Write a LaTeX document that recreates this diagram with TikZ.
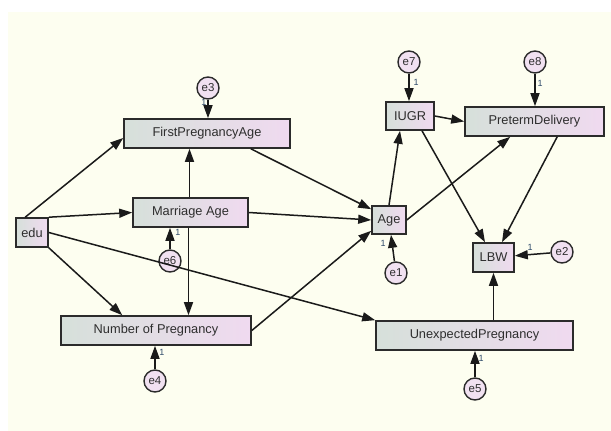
\documentclass[tikz,border=0pt]{standalone}
\usepackage{fontspec}
\setmainfont{Liberation Sans}
\usetikzlibrary{arrows.meta,calc}
\definecolor{cream}{HTML}{FDFEF0}
\definecolor{boxline}{HTML}{2B2B2B}
\definecolor{lineC}{HTML}{1A1A1A}
\definecolor{boxL}{HTML}{D6E0DA}
\definecolor{boxR}{HTML}{F0DAF0}
\definecolor{errfill}{HTML}{F1E1F1}
\definecolor{txt}{HTML}{2E2E2E}
\definecolor{onecol}{HTML}{2E4A6A}
\begin{document}
\begin{tikzpicture}[x=1pt,y=-1pt,
  var/.style={draw=boxline, line width=1.6pt, left color=boxL, right color=boxR,
    minimum height=29pt, inner sep=0pt, font=\fontsize{12.8}{14}\selectfont, text=txt},
  err/.style={circle, draw=boxline, line width=1.4pt, fill=errfill, minimum size=22pt,
    inner sep=0pt, font=\fontsize{11.5}{12}\selectfont, text=txt},
  arr/.style={line width=1.5pt, draw=lineC, -{Triangle[length=13pt,width=9pt]}},
  one/.style={font=\fontsize{9}{9}\selectfont, text=onecol, inner sep=0pt}]
\fill[white] (0,0) rectangle (611,431);
\fill[cream] (8,12) rectangle (611,431);
\useasboundingbox (0,0) rectangle (611,431);

% observed variables
\node[var, minimum width=32pt] (edu) at (32,232.5) {edu};
\node[var, minimum width=115pt] (mar) at (190.5,212.5) {Marriage Age};
\node[var, minimum width=166pt] (fpa) at (207,133.5) {FirstPregnancyAge};
\node[var, minimum width=190pt] (nop) at (156,330.5) {Number of Pregnancy};
\node[var, minimum width=34pt, minimum height=28pt] (age) at (389,220) {Age};
\node[var, minimum width=48pt, minimum height=28pt] (iugr) at (410,116) {IUGR};
\node[var, minimum width=139pt] (ptd) at (534.5,121.5) {PretermDelivery};
\node[var, minimum width=41pt] (lbw) at (493.5,257.5) {LBW};
\node[var, minimum width=197pt] (unp) at (474.5,335.5) {UnexpectedPregnancy};

% error terms
\node[err] (e1) at (396,273) {e1};
\node[err] (e2) at (562,252) {e2};
\node[err] (e3) at (208,88) {e3};
\node[err] (e4) at (155,381) {e4};
\node[err] (e5) at (475,389) {e5};
\node[err] (e6) at (170,261) {e6};
\node[err] (e7) at (409,62) {e7};
\node[err] (e8) at (535,62) {e8};

% paths
\draw[arr] ($(edu.north west)+(10,0)$) -- ($(fpa.west)+(0,4.5)$);
\draw[arr] (edu.north east) -- (mar.west);
\draw[arr] (edu.south east) -- ($(nop.north west)+(62,0)$);
\draw[arr] (edu.east) -- (unp.north west);
\draw[arr] ($(mar.north)+(-1,0)$) -- ($(mar.north |- fpa.south)+(-1,0)$);
\draw[arr] ($(mar.south)+(-2,0)$) -- ($(mar.south |- nop.north)+(-2,0)$);
\draw[arr] (mar.east) -- (age.west);
\draw[arr] ($(fpa.south east)+(-40,0)$) -- ($(age.north west)+(0,4)$);
\draw[arr] (nop.east) -- ($(age.south west)+(0,-4)$);
\draw[arr] (age.north) -- ($(iugr.south)+(-10,0)$);
\draw[arr] (age.east) -- ($(ptd.south west)+(46,0)$);
\draw[arr] (iugr.east) -- (ptd.west);
\draw[arr] ($(iugr.south)+(12,0)$) -- ($(lbw.north)+(-8.5,0)$);
\draw[arr] ($(ptd.south west)+(93,0)$) -- ($(lbw.north)+(8.5,0)$);
\draw[arr] (lbw.south |- unp.north) -- (lbw.south);

% error paths
\draw[arr] (e1) -- (age);
\draw[arr] (e2) -- (lbw);
\draw[arr] (e3.south) -- (e3.south |- fpa.north);
\draw[arr] (e4.north) -- (e4.north |- nop.south);
\draw[arr] (e5.north) -- (e5.north |- unp.south);
\draw[arr] (e6.north) -- (e6.north |- mar.south);
\draw[arr] (e7.south) -- (e7.south |- iugr.north);
\draw[arr] (e8.south) -- (e8.south |- ptd.north);

% weight labels
\node[one] (l1) at (383,243) {1};
\node[one] (l2) at (530,247) {1};
\node[one] (l3) at (204,102) {1};
\node[one] (l4) at (162,352) {1};
\node[one] (l5) at (481,358) {1};
\node[one] (l6) at (178,232) {1};
\node[one] (l7) at (416,82) {1};
\node[one] (l8) at (540,83) {1};
\end{tikzpicture}
\end{document}
